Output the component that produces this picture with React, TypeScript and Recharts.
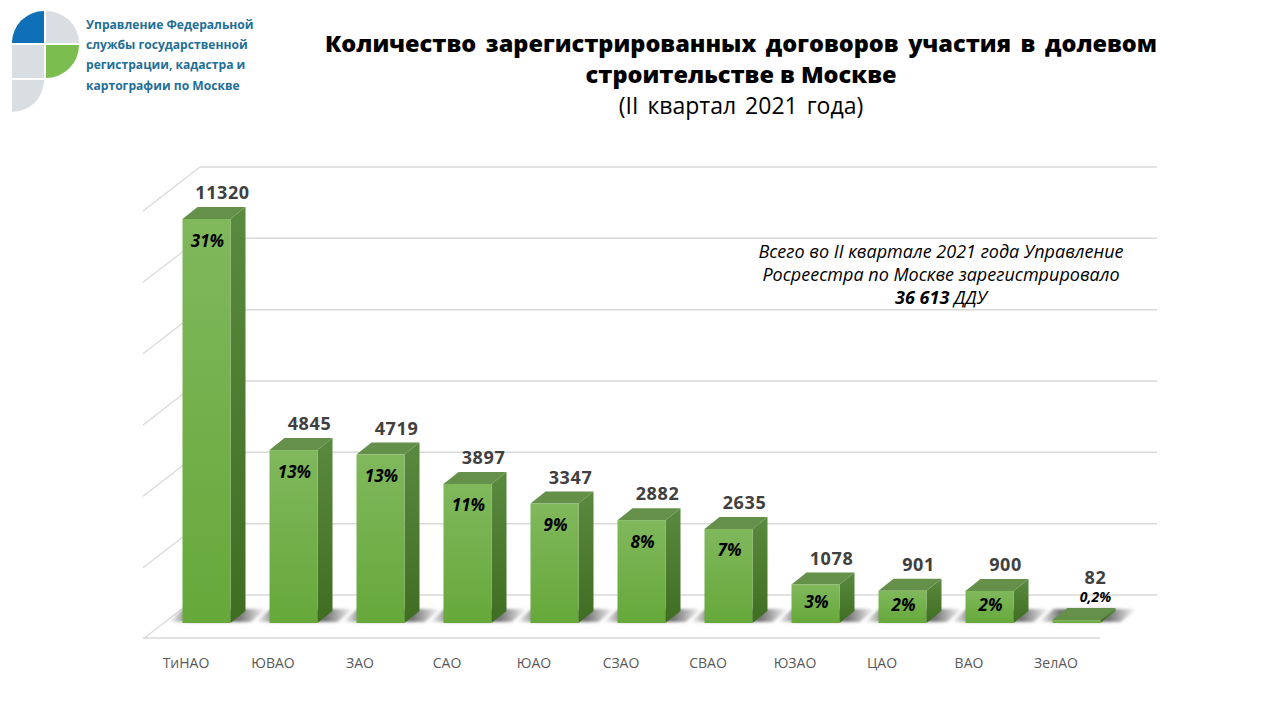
import React from 'react';
import { BarChart, Bar, XAxis, YAxis, CartesianGrid, LabelList } from 'recharts';

const districts = ['ТиНАО', 'ЮВАО', 'ЗАО', 'САО', 'ЮАО', 'СЗАО', 'СВАО', 'ЮЗАО', 'ЦАО', 'ВАО', 'ЗелАО'];
const counts = [11320, 4845, 4719, 3897, 3347, 2882, 2635, 1078, 901, 900, 82];
const shares = ['31%', '13%', '13%', '11%', '9%', '8%', '7%', '3%', '2%', '2%', '0,2%'];
const wallTicks = [-1205, 0, 2000, 4000, 6000, 8000, 10000, 12000];

const data = districts.map((name, i) => ({ name, count: counts[i], share: shares[i] }));

const FONT = '"Open Sans", "Noto Sans", sans-serif';
const DEPTH_X = 15;
const DEPTH_Y = 12;

// 3D column: shadow on the floor, then side, top and front faces
function Column3D({ x, y, width, height }: any) {
    const b = y + height;
    const r = x + width;
    return (
        <g>
            <polygon
                points={`${x - 14},${b - 1} ${x + 1},${b - 14} ${x + 84},${b - 14} ${x + 68},${b - 1}`}
                fill="url(#floorShadow)"
                filter="url(#soft)"
            />
            <polygon
                points={`${r},${y} ${r + DEPTH_X},${y - DEPTH_Y} ${r + DEPTH_X},${b - DEPTH_Y} ${r},${b}`}
                fill="url(#sideFace)"
            />
            <polygon
                points={`${x},${y} ${x + DEPTH_X},${y - DEPTH_Y} ${r + DEPTH_X},${y - DEPTH_Y} ${r},${y}`}
                fill="#64904a"
            />
            <rect x={x} y={y} width={width} height={Math.max(height, 1)} fill="url(#frontFace)" />
        </g>
    );
}

// wall lines plus the slanted piece on the left wall; lowest tick is the floor's front edge
function WallLine({ x1, x2, y1 }: any) {
    if (y1 > 630) {
        return <line x1={x1} x2={1100} y1={y1} y2={y1} stroke="#d9d9d9" strokeWidth={1.5} />;
    }
    return (
        <g>
            <line x1={x1 + 57} x2={x2} y1={y1} y2={y1} stroke="#d9d9d9" strokeWidth={1.5} />
            <line x1={x1} x2={x1 + 57} y1={y1 + 44} y2={y1} stroke="#d9d9d9" strokeWidth={1.2} />
        </g>
    );
}

function CountLabel({ x, y, width, height, value }: any) {
    const flat = height < 10;
    return (
        <text
            x={x + width / 2 + (flat ? 19 : 16)}
            y={y + (flat ? -43 : -27)}
            textAnchor="middle"
            dominantBaseline="central"
            fontFamily={FONT}
            fontWeight={700}
            fontSize={18}
            letterSpacing={0.6}
            fill="#404040"
        >
            {value}
        </text>
    );
}

function ShareLabel({ x, y, width, height, value }: any) {
    const flat = height < 10;
    return (
        <text
            x={x + width / 2 + (flat ? 19 : 1)}
            y={y + (flat ? -24 : Math.min(height / 2 - 2, 21))}
            textAnchor="middle"
            dominantBaseline="central"
            fontFamily={FONT}
            fontWeight={700}
            fontStyle="italic"
            fontSize={flat ? 14 : 17}
            fill="#000"
        >
            {value}
        </text>
    );
}

function DistrictTick({ x, y, payload }: any) {
    return (
        <text x={x - 20} y={y + 16} textAnchor="middle" dominantBaseline="central" fontFamily={FONT} fontSize={14} fill="#595959">
            {payload.value}
        </text>
    );
}

function Logo() {
    return (
        <svg width={80} height={104} style={{ position: 'absolute', left: 11, top: 10 }} viewBox="11 10 80 104">
            <path d="M12 43 A32 32 0 0 1 44 11 L44 43 Z" fill="#0f70b7" />
            <path d="M46 11 A33 32 0 0 1 79 43 L46 43 Z" fill="#d9dee2" />
            <rect x={12} y={45} width={32} height={33} fill="#d9dee2" />
            <path d="M46 45 L79 45 A33 33 0 0 1 46 78 Z" fill="#7bbd4e" />
            <path d="M12 80 L44 80 A32 32 0 0 1 12 112 Z" fill="#d9dee2" />
        </svg>
    );
}

const logoLines = ['Управление Федеральной', 'службы государственной', 'регистрации, кадастра и', 'картографии по Москве'];

export default function App() {
    return (
        <div style={{ position: 'absolute', left: 0, top: 0, width: 1280, height: 720, background: '#fff', overflow: 'hidden', fontFamily: FONT }}>
            <Logo />
            {logoLines.map((line, i) => (
                <div
                    key={line}
                    style={{ position: 'absolute', left: 86, top: 15 + i * 20.2, fontSize: 12.1, lineHeight: '20px', fontWeight: 700, color: '#1f6f97', whiteSpace: 'nowrap' }}
                >
                    {line}
                </div>
            ))}

            <div style={{ position: 'absolute', left: 325, top: 27, width: 832, fontSize: 23.5, lineHeight: '32px', fontWeight: 800, color: '#000', textAlign: 'justify', textAlignLast: 'justify' }}>
                Количество зарегистрированных договоров участия в долевом
            </div>
            <div style={{ position: 'absolute', left: 325, top: 58, width: 832, fontSize: 23.5, lineHeight: '32px', fontWeight: 800, color: '#000', textAlign: 'center' }}>
                строительстве в Москве
            </div>
            <div style={{ position: 'absolute', left: 325, top: 89, width: 832, fontSize: 23, lineHeight: '32px', wordSpacing: 3, color: '#000', textAlign: 'center' }}>
                (II квартал 2021 года)
            </div>

            <BarChart
                width={1280}
                height={720}
                data={data}
                margin={{ top: 167, right: 123, bottom: 0, left: 143 }}
                style={{ position: 'absolute', left: 0, top: 0 }}
            >
                <defs>
                    <linearGradient id="frontFace" x1="0" y1="0" x2="0" y2="1">
                        <stop offset="0%" stopColor="#80b85c" />
                        <stop offset="100%" stopColor="#66a83a" />
                    </linearGradient>
                    <linearGradient id="sideFace" x1="0" y1="0" x2="0" y2="1">
                        <stop offset="0%" stopColor="#5a8a3f" />
                        <stop offset="100%" stopColor="#3f6e22" />
                    </linearGradient>
                    <linearGradient id="floorShadow" x1="0" y1="0" x2="1" y2="0">
                        <stop offset="0%" stopColor="#666" stopOpacity={0} />
                        <stop offset="22%" stopColor="#666" stopOpacity={0.9} />
                        <stop offset="72%" stopColor="#666" stopOpacity={0.9} />
                        <stop offset="100%" stopColor="#666" stopOpacity={0} />
                    </linearGradient>
                    <filter id="soft" x="-10%" y="-40%" width="120%" height="180%">
                        <feGaussianBlur stdDeviation="1.5" />
                    </filter>
                </defs>
                <YAxis yAxisId="count" hide domain={[-420, 12777]} />
                <CartesianGrid
                    yAxisId="count"
                    vertical={false}
                    horizontal={(props: any) => <WallLine key={props.key} {...props} />}
                    horizontalCoordinatesGenerator={({ offset }: any) =>
                        wallTicks.map((v) => offset.top + (offset.height * (12000 - v)) / 13205)
                    }
                />
                <XAxis
                    dataKey="name"
                    height={82}
                    interval={0}
                    axisLine={false}
                    tickLine={false}
                    padding={{ left: 19.5, right: 37.5 }}
                    tick={<DistrictTick />}
                />
                <Bar yAxisId="count" dataKey="count" barSize={48} shape={<Column3D />} isAnimationActive={false}>
                    <LabelList dataKey="count" content={<CountLabel />} />
                    <LabelList dataKey="share" content={<ShareLabel />} />
                </Bar>
            </BarChart>

            <div style={{ position: 'absolute', left: 700, top: 240, width: 482, textAlign: 'center', fontSize: 18, lineHeight: '23px', fontStyle: 'italic', color: '#000' }}>
                Всего во II квартале 2021 года Управление
                <br />
                Росреестра по Москве зарегистрировало
                <br />
                <b>36 613</b> ДДУ
            </div>
        </div>
    );
}
